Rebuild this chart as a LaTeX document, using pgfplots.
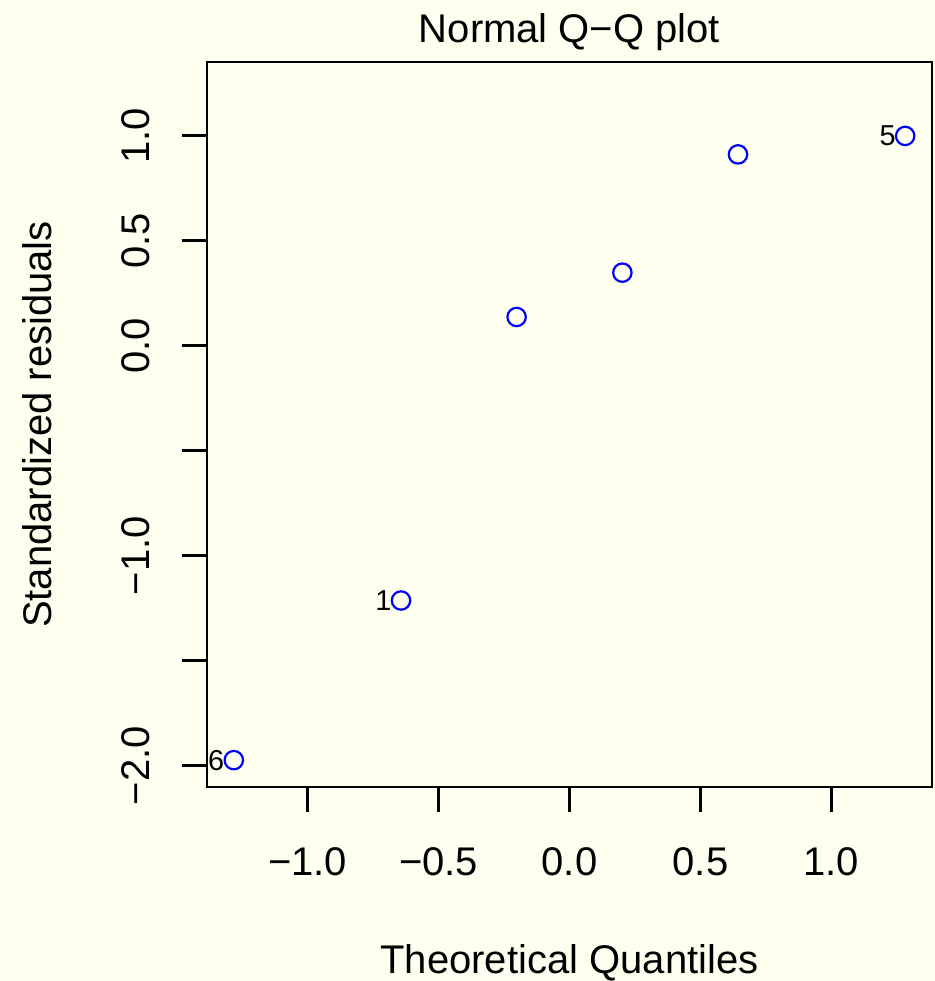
\documentclass[border=0pt]{standalone}
\usepackage{fontspec}
\setmainfont{Liberation Sans}
\usepackage{pgfplots}
\pgfplotsset{compat=1.18}
\definecolor{ivory}{HTML}{FFFFF0}
\definecolor{rblue}{HTML}{0000FF}

\begin{document}
\begin{tikzpicture}
% page background, also fixes the picture size
\fill[ivory] (-103.5pt,-97pt) rectangle (364pt,393.5pt);
\begin{axis}[
    at={(0,0)}, anchor=south west,
    scale only axis,
    width=362.5pt, height=362.5pt,
    xmin=-1.384, xmax=1.384,
    ymin=-2.101, ymax=1.351,
    axis line style={line width=1.3pt},
    every tick/.style={black, line width=1.3pt},
    tick align=outside, major tick length=12.5pt,
    xtick pos=bottom, ytick pos=left,
    xtick={-1,-0.5,0,0.5,1},
    xticklabels={−1.0,−0.5,0.0,0.5,1.0},
    ytick={-2,-1.5,-1,-0.5,0,0.5,1},
    yticklabels={−2.0,,−1.0,,0.0,0.5,1.0},
    tick label style={font=\fontsize{20}{24}\selectfont},
    xticklabel style={anchor=base, inner sep=0pt},
    xticklabel shift=31.5pt,
    yticklabel style={rotate=90, anchor=base, inner sep=0pt},
    yticklabel shift=16pt,
    title={Normal Q−Q plot},
    title style={font=\fontsize{20}{24}\selectfont, at={(axis description cs:0.5,1)}, anchor=base, yshift=4pt, inner sep=0pt},
    xlabel={Theoretical Quantiles},
    xlabel style={font=\fontsize{20}{24}\selectfont, at={(axis description cs:0.5,-0.2566)}, anchor=base, inner sep=0pt},
    ylabel={Standardized residuals},
    ylabel style={font=\fontsize{20}{24}\selectfont, at={(axis description cs:-0.2138,0.5)}, rotate=0, anchor=base, inner sep=0pt},
]
\addplot[only marks, mark=o, mark size=4.6pt, rblue, line width=1.1pt]
  coordinates {
    (-1.2816,-1.973)
    (-0.6433,-1.213)
    (-0.2019,0.137)
    (0.2019,0.348)
    (0.6433,0.911)
    (1.2816,0.999)
  };
\addplot[draw=none, nodes near coords, point meta=explicit symbolic,
    nodes near coords style={anchor=east, inner sep=0pt, xshift=-4.6pt,
      font=\fontsize{14.4}{16}\selectfont, text=black}]
  coordinates {
    (-1.2816,-1.973) [6]
    (-0.6433,-1.213) [1]
    (1.2816,0.999) [5]
  };
\end{axis}
\end{tikzpicture}
\end{document}
